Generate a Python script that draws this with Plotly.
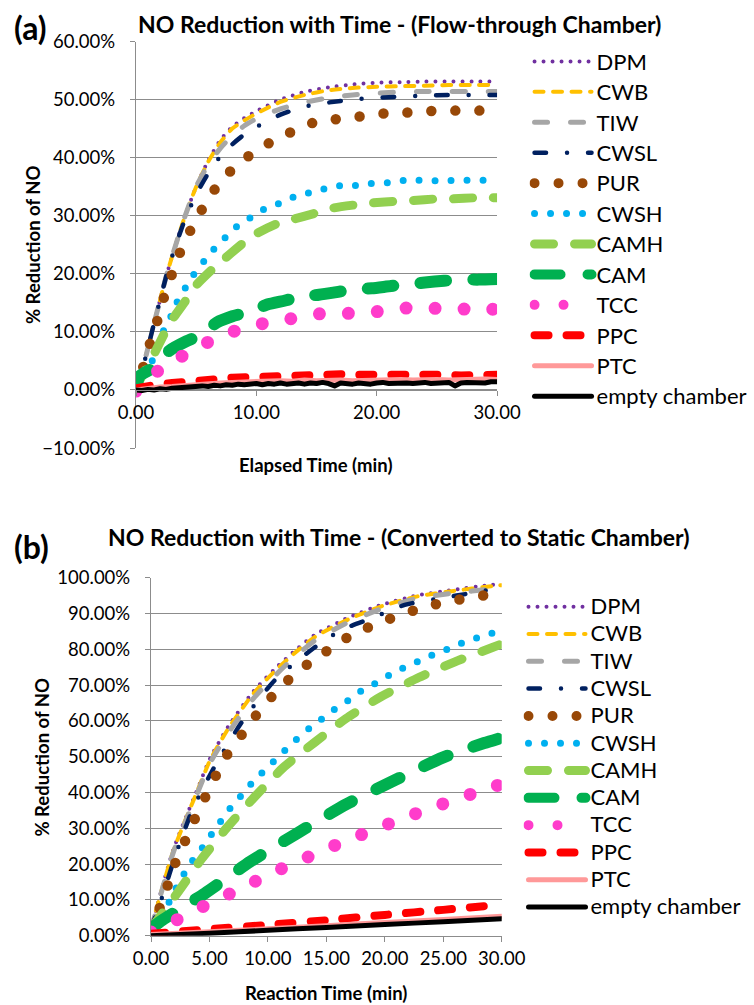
import plotly.graph_objects as go

# ---------------- data : panel (a) flow-through chamber ----------------
A_T = [0, 0.5, 1, 1.5, 2, 2.5, 3, 4, 5, 6, 7, 8, 9, 10, 12, 14, 16, 18, 20, 22, 24, 26, 28, 30]
DPM_A = [0, 3.3, 7.3, 11.5, 15.5, 19.5, 23, 29.5, 35, 39.5, 43, 45.3, 46.8, 48, 50, 51.3, 52.1, 52.6, 52.9, 53.0, 53.1, 53.1, 53.1, 53.1]
CWB_A = [0, 3.3, 7.3, 11.5, 15.5, 19.5, 23, 29.5, 35, 39.3, 42.6, 45, 46.4, 47.6, 49.6, 50.8, 51.6, 52.0, 52.2, 52.3, 52.4, 52.5, 52.5, 52.5]
TIW_A = [0, 3.3, 7.3, 11.5, 15.5, 19.5, 23, 29.5, 35, 38.8, 41.6, 43.8, 45.5, 46.7, 48.4, 49.5, 50.3, 50.8, 51.1, 51.3, 51.4, 51.4, 51.4, 51.4]
CWSL_A = [0, 3.3, 7.3, 11.5, 15.5, 19.5, 23, 29, 33.7, 37.3, 40.2, 42.3, 44.0, 45.3, 47.4, 48.8, 49.5, 50.0, 50.3, 50.5, 50.7, 50.8, 50.8, 50.8]

PUR_A_T = [0, 0.6, 1.16, 1.8, 2.33, 3.0, 3.74, 4.6, 5.6, 6.7, 8.1, 9.7, 11.4, 13.2, 15.0, 17.0, 19.0, 21.1, 23.0, 25.0, 27.0, 29.0, 30]
PUR_A = [0, 3.95, 8.0, 12.1, 16.0, 20.0, 24.1, 27.8, 31.5, 35.0, 38.2, 40.8, 42.9, 44.7, 46.2, 46.7, 47.2, 47.7, 47.8, 48.1, 48.1, 48.1, 48.1]

CWSH_A_T = [0, 1.3, 2.27, 2.9, 3.4, 4.1, 4.8, 5.7, 6.5, 7.5, 8.4, 9.6, 10.7, 12.0, 13.2, 14.5, 15.8, 17.1, 18.5, 19.8, 21.1, 22.4, 23.8, 25.1, 26.5, 27.8, 29.2, 30]
CWSH_A = [0.3, 4.8, 10.1, 12.7, 15.1, 17.6, 19.9, 22.3, 24.3, 26.4, 28.2, 29.8, 31.2, 32.2, 33.3, 34.0, 34.7, 35.2, 35.2, 35.6, 35.7, 36.1, 36.1, 36.0, 36.1, 36.1, 36.1, 36.1]

CAMH_A_T = [0, 1.4, 2.4, 3.0, 4.2, 4.8, 6.3, 7.3, 8.9, 9.9, 11.7, 12.9, 15.0, 16.3, 18.3, 19.6, 21.7, 22.9, 25.0, 26.2, 28.3, 30]
CAMH_A = [0.5, 5.8, 9.9, 12.1, 15.6, 17.6, 20.7, 22.5, 25.3, 26.8, 28.6, 29.3, 30.5, 31.3, 31.9, 32.2, 32.5, 32.6, 32.9, 32.9, 33.1, 33.1]

CAM_A_T = [0, 0.3, 1.4, 2.8, 4.2, 5.5, 6.7, 8.0, 9.5, 10.9, 12.4, 13.8, 15.2, 16.8, 18.3, 19.6, 21.2, 22.8, 24.0, 25.6, 27.2, 28.5, 30]
CAM_A = [0, 2.4, 3.8, 6.8, 8.4, 9.6, 11.6, 12.7, 13.5, 14.7, 15.4, 16.1, 16.4, 16.9, 17.4, 17.5, 17.9, 18.2, 18.5, 18.8, 19.0, 19.0, 19.1]

TCC_A_T = [0, 1.9, 4.07, 6.15, 8.4, 10.9, 13.3, 15.6, 18.1, 20.6, 23.0, 25.5, 27.9, 30]
TCC_A = [-0.2, 3.4, 6.1, 8.4, 10.3, 11.6, 12.4, 13.2, 13.2, 13.6, 14.2, 14.0, 13.9, 13.9]

LOW_A_T = list(range(0, 31))
PPC_A = [0.3, 0.8, 1.0, 1.2, 1.3, 1.6, 1.8, 1.9, 2.1, 2.2, 2.3, 2.3, 2.4, 2.5, 2.6, 2.5, 2.7, 2.7, 2.6, 2.6,
         2.7, 2.6, 2.9, 2.7, 2.6, 2.6, 2.6, 2.5, 2.6, 2.7, 2.6]
PTC_A = [0.0, 0.3, 0.5, 0.6, 0.8, 1.0, 1.1, 1.2, 1.3, 1.4, 1.5, 1.4, 1.6, 1.5, 1.7, 1.6, 1.7, 1.7, 1.6, 1.7,
         1.8, 1.7, 1.8, 1.7, 1.8, 1.8, 1.7, 1.8, 1.8, 1.9, 1.8]

EMPTY_A_T = [i * 0.5 for i in range(61)]
EMPTY_A = [0.0, -0.1, 0.1, 0.0, 0.2, 0.1, 0.3, 0.4, 0.5, 0.4, 0.6, 0.7, 0.6, 0.8, 0.7, 0.9, 0.8, 1.0, 0.9, 1.0,
           1.1, 0.9, 1.1, 1.0, 1.2, 1.0, 1.1, 1.2, 1.0, 1.2, 1.1, 1.3, 1.1, 0.7, 1.2, 1.1, 1.0, 1.2, 1.1, 1.0,
           1.2, 1.3, 1.1, 1.2, 1.1, 1.2, 1.1, 1.2, 1.3, 1.1, 1.2, 1.1, 1.3, 0.7, 1.2, 1.3, 1.2, 1.3, 1.2, 1.4, 1.4]

# ---------------- data : panel (b) converted to static chamber ----------------
B_T = [0, 0.5, 1.0, 1.9, 2.9, 3.9, 5.05, 6.6, 8.75, 10.5, 12.2, 14.0, 16.9, 19.7, 22.7, 25.9, 29.1, 30]
DPM_B = [2, 8, 14, 24, 32.4, 40.3, 49.5, 58.4, 68.2, 74.2, 79.3, 84.0, 88.9, 92.4, 95.0, 96.6, 98.0, 98.2]
CWB_B = [2, 7.8, 13.7, 23.6, 32, 39.9, 49, 57.8, 67.6, 73.6, 78.7, 83.4, 88.4, 92.0, 94.7, 96.3, 97.6, 97.9]
TIW_B = [2, 7.6, 13.4, 23.2, 31.5, 39.3, 48.2, 56.6, 66.2, 72.3, 77.6, 82.4, 87.6, 91.3, 94.2, 95.7, 96.8, 97.1]

CWSL_B_T = [0, 0.77, 2.05, 3.6, 5.6, 7.9, 10.6, 13.9, 16.3, 18.9, 21.7, 24.7, 27.6, 30]
CWSL_B = [2, 9, 22, 35.6, 48.2, 60.3, 71.4, 80.3, 85.4, 88.7, 92.4, 94.2, 95.8, 97.2]

PUR_B_T = [0, 0.62, 1.34, 2.0, 2.85, 3.7, 4.6, 5.5, 6.5, 7.8, 9.0, 10.4, 11.9, 13.5, 15.3, 17.0, 18.9, 20.9, 22.9, 24.9, 26.9, 29.1, 30]
PUR_B = [1.5, 6.7, 13.2, 19.7, 26.0, 32.3, 38.4, 44.4, 50.5, 56.3, 61.6, 67.0, 71.9, 76.1, 80.1, 83.7, 86.6, 89.1, 91.3, 93.0, 94.2, 95.4, 95.7]

CWSH_B_T = [0, 1.34, 1.9, 2.6, 3.3, 4.2, 5.0, 5.8, 6.6, 7.5, 8.4, 9.4, 10.4, 11.4, 12.4, 13.5, 14.6, 15.7, 16.9, 18.0, 19.2, 20.4, 21.7, 23.0, 24.3, 25.6, 26.8, 28.2, 29.6, 30]
CWSH_B = [2, 8.1, 11.8, 16.0, 19.9, 23.7, 27.5, 31.2, 34.9, 38.3, 41.8, 45.2, 48.4, 51.6, 54.7, 57.8, 60.5, 63.2, 65.8, 68.4, 70.5, 72.8, 75.0, 76.8, 78.7, 80.3, 82.0, 83.5, 84.9, 85.2]

CAMH_B_T = [0, 2.25, 4.3, 6.5, 8.9, 11.4, 14.0, 16.7, 19.7, 22.9, 26.0, 29.2, 30]
CAMH_B = [2.0, 11.9, 21.3, 30.2, 38.9, 47.2, 54.0, 60.7, 66.8, 72.1, 76.5, 80.5, 81.5]

CAM_B_T = [0, 1.0, 4.6, 8.5, 12.6, 16.7, 20.9, 25.0, 28.5, 30]
CAM_B = [2.0, 4.4, 11.8, 20.7, 28.8, 36.7, 43.5, 49.8, 53.8, 55.3]

TCC_B_T = [0, 2.2, 4.6, 7.0, 9.3, 11.7, 14.1, 16.5, 19.0, 21.4, 23.9, 26.4, 28.9, 30]
TCC_B = [1.0, 4.4, 8.4, 12.1, 15.8, 19.5, 22.9, 26.3, 29.5, 32.6, 35.6, 38.4, 41.3, 42.3]

LOW_B_T = [0, 5, 10, 15, 20, 25, 30]
PPC_B = [0.5, 1.8, 3.0, 4.3, 5.8, 7.2, 8.7]
PTC_B = [0.3, 1.1, 1.9, 2.8, 3.7, 4.5, 5.4]
EMPTY_B = [0.0, 0.7, 1.5, 2.3, 3.1, 3.9, 4.7]

NAMES = ["DPM", "CWB", "TIW", "CWSL", "PUR", "CWSH", "CAMH", "CAM", "TCC", "PPC", "PTC", "empty chamber"]

# ---------------- styles ----------------
COLORS = {"DPM": "#7030A0", "CWB": "#FFC000", "TIW": "#A6A6A6", "CWSL": "#002060", "PUR": "#984807",
          "CWSH": "#00B0F0", "CAMH": "#92D050", "CAM": "#00B050", "TCC": "#FF3CCB", "PPC": "#FF0000",
          "PTC": "#FF9999", "empty chamber": "#000000"}
# width, dash (round caps are applied, so dot patterns use zero-length dashes)
STYLE = {"DPM": (4, "0px,9px"), "CWB": (4, "9px,9.5px"), "TIW": (5, "13px,23px"),
         "CWSL": (4.5, "11.5px,21px,0px,21px"), "PUR": (10.5, "0px,24px"), "CWSH": (7, "0px,16px"),
         "CAMH": (9, "19px,21px"), "CAM": (12, "26px,27px"), "TCC": (13, "0px,29px"),
         "PPC": (8, "14px,18px"), "PTC": (5, "solid"), "empty chamber": (5, "solid")}

PANEL_A = {"DPM": (A_T, DPM_A), "CWB": (A_T, CWB_A), "TIW": (A_T, TIW_A), "CWSL": (A_T, CWSL_A),
           "PUR": (PUR_A_T, PUR_A), "CWSH": (CWSH_A_T, CWSH_A), "CAMH": (CAMH_A_T, CAMH_A),
           "CAM": (CAM_A_T, CAM_A), "TCC": (TCC_A_T, TCC_A), "PPC": (LOW_A_T, PPC_A),
           "PTC": (LOW_A_T, PTC_A), "empty chamber": (EMPTY_A_T, EMPTY_A)}
PANEL_B = {"DPM": (B_T, DPM_B), "CWB": (B_T, CWB_B), "TIW": (B_T, TIW_B), "CWSL": (CWSL_B_T, CWSL_B),
           "PUR": (PUR_B_T, PUR_B), "CWSH": (CWSH_B_T, CWSH_B), "CAMH": (CAMH_B_T, CAMH_B),
           "CAM": (CAM_B_T, CAM_B), "TCC": (TCC_B_T, TCC_B), "PPC": (LOW_B_T, PPC_B),
           "PTC": (LOW_B_T, PTC_B), "empty chamber": (LOW_B_T, EMPTY_B)}

NOISY_A = {"PPC", "PTC", "empty chamber"}

fig = go.Figure()
for panel, xa, ya, leg in [(PANEL_A, "x", "y", "legend"), (PANEL_B, "x2", "y2", "legend2")]:
    for name in NAMES:
        xs, ys = panel[name]
        w, dash = STYLE[name]
        shape = "linear" if (leg == "legend" and name in NOISY_A) else "spline"
        fig.add_trace(go.Scatter(
            x=xs, y=ys, mode="lines", xaxis=xa, yaxis=ya, legend=leg,
            name='<span style="font-size:22px">%s</span>' % name,
            line=dict(color=COLORS[name], width=w, dash=dash, shape=shape, smoothing=0.6),
            hoverinfo="skip"))

GRID = "#8C8C8C"
TICKFONT = dict(family="Lato", size=18.5, color="black")
common = dict(showline=True, linecolor=GRID, linewidth=1.3, ticks="outside", ticklen=5,
              tickcolor=GRID, tickwidth=1.3, zeroline=False, tickfont=TICKFONT, fixedrange=True)

fig.update_layout(
    width=754, height=1005, autosize=False,
    margin=dict(l=0, r=0, t=0, b=0, autoexpand=False),
    paper_bgcolor="white", plot_bgcolor="white",
    font=dict(family="Lato", color="black"),
    showlegend=True,
    xaxis=dict(domain=[0.1804, 0.6592], range=[0, 30], tickmode="linear", tick0=0, dtick=10,
               tickformat=".2f", anchor="free", position=0.6120, showgrid=False,
               ticklabelstandoff=1, **common),
    yaxis=dict(domain=[0.5542, 0.9587], range=[-10, 60], tickmode="linear", tick0=-10, dtick=10,
               tickformat=".2f", ticksuffix="%", anchor="x", showgrid=True, gridcolor=GRID,
               gridwidth=1, ticklabelstandoff=11, **common),
    xaxis2=dict(domain=[0.2003, 0.6654], range=[0, 30], tickmode="linear", tick0=0, dtick=5,
                tickformat=".2f", anchor="y2", showgrid=False, ticklabelstandoff=1, **common),
    yaxis2=dict(domain=[0.0690, 0.4252], range=[0, 100], tickmode="linear", tick0=0, dtick=10,
                tickformat=".2f", ticksuffix="%", anchor="x2", showgrid=True, gridcolor=GRID,
                gridwidth=1, ticklabelstandoff=11, **common),
    legend=dict(x=0.7023, y=0.959, xanchor="left", yanchor="top", itemwidth=57,
                font=dict(family="Lato", size=21.1, color="black"), bgcolor="rgba(0,0,0,0)",
                borderwidth=0, traceorder="normal"),
    legend2=dict(x=0.6943, y=0.4149, xanchor="left", yanchor="top", itemwidth=57,
                 font=dict(family="Lato", size=18.7, color="black"), bgcolor="rgba(0,0,0,0)",
                 borderwidth=0, traceorder="normal"),
)

def note(text, x, y, size, angle=0):
    fig.add_annotation(text=text, x=x, y=y, xref="paper", yref="paper", showarrow=False,
                       xanchor="center", yanchor="middle", textangle=angle,
                       font=dict(family="Lato", size=size, color="black"))

note("<b>(a)</b>", 0.0411, 0.9731, 32)
note("<b>NO Reduction with Time - (Flow-through Chamber)</b>", 0.5298, 0.9761, 23)
note("<b>% Reduction of NO</b>", 0.0438, 0.7562, 18.5, -90)
note("<b>Elapsed Time (min)</b>", 0.4191, 0.5373, 18.5)
note("<b>(b)</b>", 0.0424, 0.4567, 32)
note("<b>NO Reduction with Time - (Converted to Static Chamber)</b>", 0.5292, 0.4657, 23)
note("<b>% Reduction of NO</b>", 0.0557, 0.2472, 18.5, -90)
note("<b>Reaction Time (min)</b>", 0.4330, 0.0119, 18.5)

ROUND_CAPS = ("var s=document.createElement('style');"
              "s.textContent='path.js-line{stroke-linecap:round !important;stroke-linejoin:round !important;}';"
              "document.head.appendChild(s);")

fig.write_html("out.html", post_script=ROUND_CAPS, config={"displayModeBar": False})
